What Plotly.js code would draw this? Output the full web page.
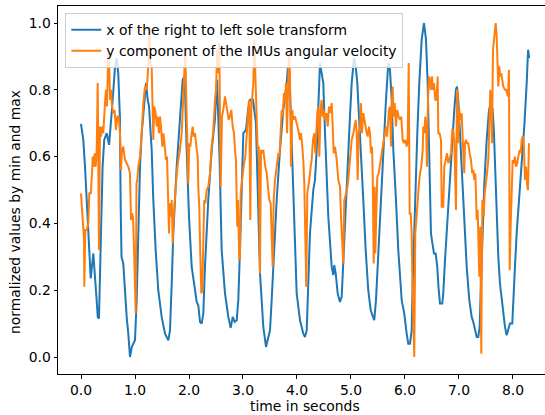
<!DOCTYPE html>
<html>
<head>
<meta charset="utf-8">
<script src="https://cdn.plot.ly/plotly-3.0.1.min.js"></script>
<style>html,body{margin:0;padding:0;background:#fff;}#chart{width:545px;height:415px;}</style>
</head>
<body>
<div id="chart"></div>
<script>
// ---- data ----
const seriesNames = ["x of the right to left sole transform", "y component of the IMUs angular velocity"];

const timeSole = [0.0,0.043,0.074,0.106,0.135,0.167,0.18,0.228,0.26,0.29,0.31,0.333,0.37,0.40,0.43,0.476,0.52,0.55,0.587,0.63,0.66,0.69,0.72,0.735,0.75,0.783,0.815,0.846,0.876,0.907,0.94,0.98,1.0,1.031,1.061,1.093,1.124,1.172,1.204,1.235,1.26,1.309,1.339,1.383,1.431,1.494,1.556,1.617,1.648,1.68,1.709,1.772,1.833,1.883,1.913,1.926,1.957,2.0,2.05,2.111,2.143,2.172,2.204,2.235,2.265,2.296,2.357,2.42,2.48,2.52,2.565,2.605,2.667,2.728,2.772,2.81,2.846,2.883,2.913,2.944,2.976,3.006,3.056,3.093,3.13,3.185,3.24,3.283,3.315,3.346,3.376,3.426,3.469,3.5,3.531,3.561,3.624,3.685,3.746,3.809,3.833,3.87,3.907,3.944,3.994,4.056,4.117,4.148,4.18,4.209,4.24,4.302,4.333,4.365,4.394,4.426,4.457,4.487,4.519,4.55,4.58,4.643,4.672,4.69,4.717,4.754,4.796,4.828,4.857,4.889,4.92,4.95,4.981,5.013,5.056,5.087,5.117,5.148,5.185,5.228,5.272,5.32,5.365,5.4,5.431,5.463,5.506,5.55,5.598,5.648,5.691,5.722,5.754,5.784,5.833,5.876,5.939,5.987,6.031,6.061,6.093,6.124,6.143,6.167,6.198,6.228,6.265,6.309,6.352,6.389,6.42,6.45,6.481,6.513,6.537,6.568,6.598,6.62,6.648,6.69,6.709,6.741,6.791,6.833,6.876,6.913,6.944,6.963,6.987,7.019,7.05,7.08,7.111,7.143,7.191,7.235,7.265,7.296,7.328,7.357,7.383,7.407,7.439,7.469,7.513,7.556,7.593,7.624,7.648,7.667,7.698,7.728,7.759,7.791,7.82,7.852,7.883,7.913,7.944,7.987,8.013,8.037,8.068,8.111,8.161,8.209,8.254,8.28,8.3];

const soleX = [0.698,0.65,0.57,0.47,0.37,0.27,0.235,0.31,0.25,0.17,0.12,0.115,0.37,0.57,0.65,0.67,0.635,0.69,0.77,0.87,0.895,0.85,0.72,0.45,0.30,0.28,0.19,0.12,0.07,0.0,0.03,0.045,0.05,0.17,0.37,0.57,0.67,0.77,0.82,0.77,0.75,0.62,0.47,0.32,0.20,0.12,0.07,0.05,0.08,0.22,0.37,0.57,0.72,0.83,0.84,0.80,0.62,0.42,0.27,0.19,0.165,0.155,0.105,0.10,0.13,0.27,0.47,0.62,0.71,0.83,0.6,0.32,0.19,0.12,0.087,0.12,0.105,0.11,0.17,0.32,0.52,0.67,0.68,0.74,0.77,0.77,0.70,0.47,0.25,0.17,0.09,0.03,0.06,0.08,0.17,0.27,0.47,0.62,0.74,0.82,0.87,0.80,0.60,0.40,0.19,0.11,0.07,0.06,0.08,0.22,0.37,0.50,0.53,0.62,0.77,0.88,0.85,0.82,0.67,0.52,0.42,0.27,0.245,0.275,0.25,0.19,0.165,0.18,0.29,0.42,0.52,0.62,0.72,0.82,0.895,0.87,0.82,0.72,0.62,0.47,0.32,0.20,0.14,0.126,0.11,0.17,0.32,0.47,0.64,0.77,0.88,0.86,0.77,0.62,0.47,0.32,0.17,0.13,0.07,0.04,0.04,0.08,0.22,0.37,0.52,0.67,0.82,0.95,1.0,0.95,0.82,0.62,0.37,0.335,0.31,0.31,0.27,0.21,0.16,0.16,0.19,0.29,0.42,0.54,0.67,0.74,0.80,0.81,0.77,0.67,0.57,0.47,0.37,0.27,0.17,0.12,0.105,0.08,0.06,0.06,0.09,0.22,0.37,0.52,0.65,0.74,0.76,0.74,0.67,0.57,0.42,0.30,0.22,0.17,0.13,0.09,0.065,0.085,0.10,0.10,0.17,0.27,0.37,0.47,0.57,0.69,0.82,0.92,0.895];

const timeImu = [0.0,0.03,0.056,0.061,0.08,0.106,0.135,0.154,0.18,0.204,0.217,0.235,0.254,0.272,0.291,0.309,0.333,0.352,0.37,0.389,0.413,0.444,0.463,0.481,0.506,0.524,0.537,0.556,0.574,0.598,0.62,0.648,0.672,0.698,0.722,0.741,0.759,0.783,0.815,0.846,0.876,0.907,0.926,0.944,0.963,0.981,1.0,1.013,1.028,1.043,1.061,1.093,1.124,1.154,1.185,1.217,1.246,1.265,1.283,1.309,1.328,1.339,1.357,1.383,1.402,1.42,1.444,1.463,1.481,1.506,1.528,1.556,1.574,1.593,1.606,1.617,1.63,1.643,1.661,1.68,1.698,1.722,1.741,1.772,1.802,1.833,1.865,1.894,1.913,1.931,1.95,1.969,1.987,2.006,2.024,2.05,2.069,2.087,2.111,2.143,2.161,2.172,2.19,2.209,2.228,2.246,2.265,2.283,2.302,2.328,2.357,2.389,2.42,2.45,2.481,2.5,2.524,2.543,2.561,2.587,2.611,2.635,2.667,2.685,2.709,2.735,2.759,2.783,2.809,2.833,2.852,2.87,2.883,2.894,2.907,2.92,2.931,2.944,2.957,2.976,2.994,3.019,3.043,3.069,3.087,3.106,3.117,3.135,3.154,3.172,3.191,3.209,3.228,3.254,3.272,3.291,3.315,3.333,3.352,3.376,3.394,3.413,3.439,3.469,3.487,3.513,3.531,3.55,3.569,3.593,3.624,3.654,3.676,3.698,3.717,3.735,3.759,3.778,3.796,3.815,3.833,3.852,3.87,3.889,3.913,3.931,3.963,3.994,4.024,4.056,4.074,4.098,4.117,4.135,4.154,4.172,4.191,4.209,4.228,4.254,4.272,4.296,4.32,4.339,4.357,4.376,4.394,4.413,4.439,4.457,4.476,4.494,4.519,4.543,4.569,4.593,4.617,4.643,4.661,4.68,4.704,4.735,4.765,4.796,4.815,4.839,4.857,4.876,4.902,4.926,4.95,4.981,5.013,5.043,5.065,5.087,5.106,5.124,5.143,5.167,5.185,5.204,5.228,5.246,5.265,5.291,5.309,5.333,5.352,5.37,5.389,5.402,5.42,5.439,5.45,5.469,5.487,5.513,5.537,5.561,5.587,5.611,5.63,5.648,5.667,5.685,5.704,5.722,5.741,5.754,5.772,5.791,5.809,5.833,5.857,5.883,5.907,5.931,5.957,5.981,6.006,6.031,6.05,6.069,6.087,6.106,6.124,6.143,6.172,6.191,6.209,6.228,6.254,6.278,6.302,6.328,6.339,6.357,6.376,6.394,6.407,6.426,6.444,6.463,6.481,6.5,6.519,6.537,6.561,6.58,6.605,6.617,6.639,6.667,6.68,6.709,6.728,6.754,6.778,6.802,6.828,6.852,6.876,6.894,6.913,6.926,6.944,6.963,6.976,6.987,7.006,7.024,7.05,7.074,7.098,7.111,7.13,7.148,7.172,7.198,7.222,7.246,7.265,7.283,7.302,7.315,7.328,7.346,7.357,7.376,7.394,7.413,7.432,7.457,7.476,7.494,7.519,7.543,7.561,7.58,7.598,7.611,7.63,7.654,7.68,7.698,7.717,7.728,7.746,7.765,7.783,7.802,7.82,7.852,7.87,7.889,7.907,7.926,7.939,7.957,7.976,7.994,8.013,8.037,8.056,8.08,8.098,8.124,8.143,8.161,8.18,8.198,8.222,8.241,8.259,8.278,8.296];

const imuAngVelY = [0.49,0.43,0.35,0.21,0.38,0.38,0.40,0.49,0.49,0.55,0.60,0.57,0.61,0.57,0.62,0.82,0.32,0.69,0.66,0.69,0.67,0.76,0.80,0.75,0.92,0.87,0.77,0.80,0.75,0.73,0.74,0.68,0.72,0.72,0.67,0.56,0.62,0.63,0.59,0.58,0.57,0.55,0.41,0.43,0.42,0.33,0.20,0.13,0.52,0.53,0.57,0.60,0.67,0.76,0.81,0.80,0.87,0.99,0.88,0.87,0.73,0.65,0.75,0.73,0.69,0.72,0.67,0.72,0.69,0.63,0.67,0.62,0.59,0.60,0.54,0.47,0.37,0.46,0.42,0.47,0.34,0.43,0.49,0.55,0.59,0.62,0.67,0.79,0.87,0.92,0.77,0.65,0.52,0.64,0.63,0.67,0.69,0.66,0.67,0.62,0.60,0.51,0.45,0.31,0.19,0.20,0.37,0.47,0.46,0.50,0.51,0.55,0.63,0.68,0.77,0.80,0.92,0.85,0.94,0.51,0.72,0.74,0.78,0.76,0.73,0.71,0.72,0.74,0.69,0.67,0.62,0.59,0.47,0.39,0.47,0.33,0.29,0.30,0.49,0.52,0.55,0.58,0.60,0.67,0.74,0.76,0.77,0.41,0.74,0.78,0.82,0.95,0.85,0.77,0.62,0.63,0.25,0.62,0.61,0.62,0.59,0.57,0.55,0.51,0.47,0.46,0.37,0.27,0.47,0.53,0.57,0.61,0.60,0.66,0.74,0.72,0.79,0.76,0.82,0.67,0.85,0.92,0.85,0.57,0.74,0.71,0.72,0.70,0.68,0.65,0.67,0.63,0.59,0.52,0.37,0.21,0.49,0.52,0.53,0.57,0.59,0.65,0.67,0.61,0.69,0.73,0.75,0.60,0.75,0.77,0.72,0.74,0.71,0.73,0.69,0.75,0.73,0.76,0.69,0.61,0.63,0.59,0.53,0.51,0.42,0.35,0.28,0.47,0.49,0.50,0.53,0.59,0.65,0.67,0.69,0.71,0.67,0.53,0.67,0.69,0.76,0.67,0.73,0.71,0.70,0.67,0.66,0.69,0.67,0.61,0.63,0.55,0.28,0.51,0.31,0.45,0.54,0.55,0.57,0.60,0.63,0.66,0.67,0.69,0.66,0.70,0.74,0.75,0.63,0.75,0.81,0.72,0.76,0.69,0.74,0.72,0.71,0.72,0.65,0.64,0.65,0.63,0.65,0.88,0.43,0.43,0.37,0.17,0.0,0.37,0.42,0.46,0.51,0.55,0.57,0.62,0.69,0.67,0.72,0.67,0.57,0.77,0.84,0.83,0.80,0.84,0.80,0.82,0.77,0.77,0.84,0.67,0.67,0.65,0.45,0.45,0.57,0.59,0.61,0.58,0.60,0.61,0.68,0.68,0.65,0.57,0.44,0.80,0.79,0.64,0.74,0.71,0.73,0.63,0.55,0.64,0.65,0.64,0.64,0.61,0.59,0.55,0.56,0.53,0.55,0.49,0.41,0.44,0.33,0.24,0.39,0.01,0.47,0.42,0.49,0.51,0.55,0.59,0.71,0.80,0.74,0.64,0.92,0.96,1.0,0.96,0.89,0.81,0.87,0.84,0.85,0.82,0.81,0.80,0.80,0.79,0.78,0.86,0.26,0.39,0.47,0.59,0.58,0.60,0.57,0.58,0.60,0.62,0.61,0.65,0.66,0.65,0.53,0.57,0.52,0.50,0.64];

const xTickValues = [0, 1, 2, 3, 4, 5, 6, 7, 8];
const xTickLabels = ["0.0", "1.0", "2.0", "3.0", "4.0", "5.0", "6.0", "7.0", "8.0"];
const yTickValues = [0, 0.2, 0.4, 0.6, 0.8, 1.0];
const yTickLabels = ["0.0", "0.2", "0.4", "0.6", "0.8", "1.0"];
const xAxisLabel = "time in seconds";
const yAxisLabel = "normalized values by min and max";

// ---- chart ----
const FONT = "DejaVu Sans, Liberation Sans, sans-serif";
const FS = 13.9;

const traces = [
  {x: timeSole, y: soleX, type: "scatter", mode: "lines", name: seriesNames[0],
   line: {color: "#1f77b4", width: 2}},
  {x: timeImu, y: imuAngVelY, type: "scatter", mode: "lines", name: seriesNames[1],
   line: {color: "#ff7f0e", width: 2}}
];

const layout = {
  width: 545, height: 415,
  margin: {l: 58, r: 0, t: 6, b: 41, pad: 0},
  paper_bgcolor: "#ffffff", plot_bgcolor: "#ffffff",
  font: {family: FONT, size: FS, color: "#000"},
  showlegend: true,
  legend: {x: 0.015, y: 0.9804, xanchor: "left", yanchor: "top",
           bgcolor: "rgba(255,255,255,0.8)", bordercolor: "#cccccc", borderwidth: 1,
           font: {family: FONT, size: FS, color: "#000"}, itemwidth: 30},
  xaxis: {range: [-0.426, 8.593], showgrid: false, zeroline: false,
          showline: true, linecolor: "#000", linewidth: 1, mirror: true,
          ticks: "outside", ticklen: 3.5, tickwidth: 1, tickcolor: "#000",
          tickvals: xTickValues, ticktext: xTickLabels,
          tickfont: {family: FONT, size: FS, color: "#000"}},
  yaxis: {range: [-0.0509, 1.0509], showgrid: false, zeroline: false,
          showline: true, linecolor: "#000", linewidth: 1, mirror: false,
          ticks: "outside", ticklen: 3.5, tickwidth: 1, tickcolor: "#000",
          tickvals: yTickValues, ticktext: yTickLabels,
          tickfont: {family: FONT, size: FS, color: "#000"}},
  annotations: [
    {text: xAxisLabel, xref: "x", yref: "paper", x: 4.148, y: -0.086,
     xanchor: "center", yanchor: "middle", showarrow: false,
     font: {family: FONT, size: FS, color: "#000"}},
    {text: yAxisLabel, xref: "paper", yref: "paper", x: -0.0883, y: 0.4402,
     xanchor: "center", yanchor: "middle", showarrow: false, textangle: -90,
     font: {family: FONT, size: FS, color: "#000"}}
  ]
};

Plotly.newPlot("chart", traces, layout, {displayModeBar: false, staticPlot: true});
</script>
</body>
</html>
